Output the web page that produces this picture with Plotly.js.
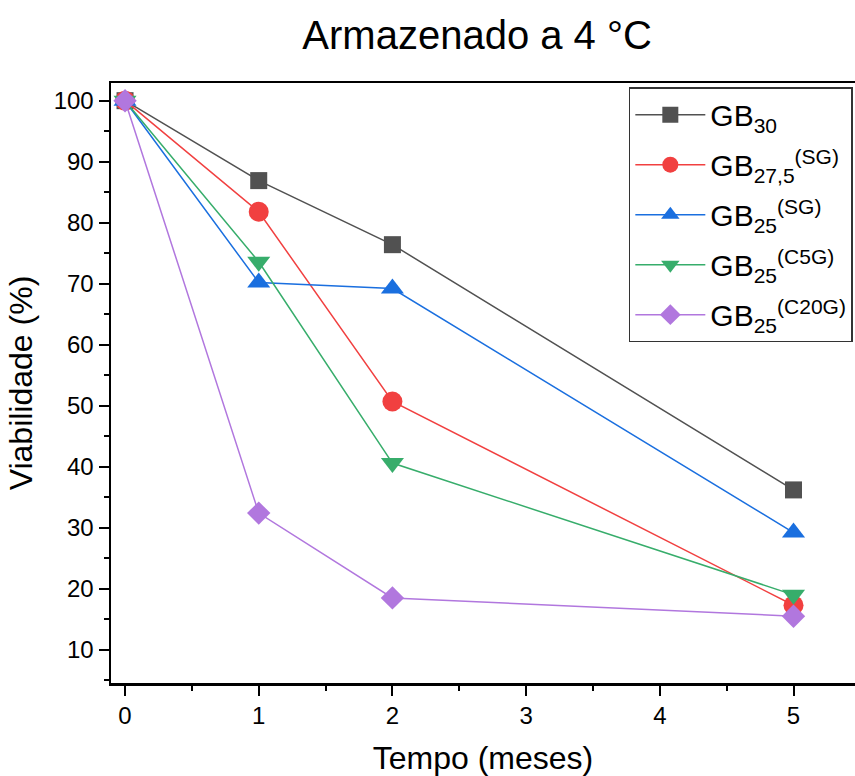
<!DOCTYPE html>
<html>
<head>
<meta charset="utf-8">
<script src="https://cdn.plot.ly/plotly-3.0.1.min.js"></script>
<style>
  html, body { margin: 0; padding: 0; background: #fff; }
  #chart { width: 855px; height: 776px; }
</style>
</head>
<body>
<div id="chart"></div>
<script>
// Storage time in months
const tempo = [0, 1, 2, 5];

// Viability (%) per formulation
const gb30     = [100, 86.9, 76.4, 36.2];
const gb275sg  = [100, 81.8, 50.7, 17.3];
const gb25sg   = [100, 70.2, 69.2, 29.2];
const gb25c5g  = [100, 73.6, 40.6, 19.0];
const gb25c20g = [100, 32.4, 18.5, 15.5];

const seriesNames = [
  'GB<sub>30</sub>',
  'GB<sub>27,5</sub><sup>(SG)</sup>',
  'GB<sub>25</sub><sup>(SG)</sup>',
  'GB<sub>25</sub><sup>(C5G)</sup>',
  'GB<sub>25</sub><sup>(C20G)</sup>'
];

const xTicks = [0, 1, 2, 3, 4, 5];
const yTicks = [10, 20, 30, 40, 50, 60, 70, 80, 90, 100];

const colors  = ['#515151', '#F14040', '#1A6FDF', '#37AD6B', '#B177DE'];
const symbols = ['square', 'circle', 'triangle-up', 'triangle-down', 'diamond'];
const sizes   = [17, 20, 20, 20, 18];
const values  = [gb30, gb275sg, gb25sg, gb25c5g, gb25c20g];

const traces = values.map((v, i) => ({
  x: tempo,
  y: v,
  name: seriesNames[i],
  legendgroup: 'g' + i,
  type: 'scatter',
  mode: 'lines+markers',
  line: { color: colors[i], width: 1.5 },
  marker: { symbol: symbols[i], size: sizes[i], color: colors[i], line: { width: 0 } }
}));

const FONT = 'Liberation Sans, Arial, Helvetica, sans-serif';

const layout = {
  width: 855,
  height: 776,
  margin: { l: 111, r: 0, t: 83, b: 93, autoexpand: false },
  paper_bgcolor: '#ffffff',
  plot_bgcolor: '#ffffff',
  font: { family: FONT, color: '#000000' },
  title: {
    text: 'Armazenado a 4 °C',
    font: { size: 40, family: FONT, color: '#000' },
    x: 0.558, xanchor: 'center',
    y: 0.955, yanchor: 'middle'
  },
  xaxis: {
    range: [-0.105, 5.46],
    tickvals: xTicks,
    ticktext: xTicks.map(String),
    ticks: 'outside', ticklen: 10, tickwidth: 2, tickcolor: '#000',
    minor: { ticks: 'outside', ticklen: 5, tickwidth: 2, tickcolor: '#000', dtick: 0.5, tick0: 0 },
    showline: true, linecolor: '#000', linewidth: 2.5, mirror: true,
    showgrid: false, zeroline: false,
    tickfont: { size: 24, family: FONT, color: '#000' },
    title: { text: 'Tempo (meses)', font: { size: 32, family: FONT, color: '#000' }, standoff: 20 }
  },
  yaxis: {
    range: [4.55, 102.9],
    tickvals: yTicks,
    ticktext: yTicks.map(String),
    ticks: 'outside', ticklen: 10, tickwidth: 2, tickcolor: '#000',
    minor: { ticks: 'outside', ticklen: 5, tickwidth: 2, tickcolor: '#000', dtick: 5, tick0: 0 },
    showline: true, linecolor: '#000', linewidth: 2.5,
    showgrid: false, zeroline: false,
    tickfont: { size: 24, family: FONT, color: '#000' },
    title: { text: 'Viabilidade (%)', font: { size: 32, family: FONT, color: '#000' }, standoff: 12 }
  },
  legend: {
    x: 0.696, y: 0.993, xanchor: 'left', yanchor: 'top',
    bgcolor: '#ffffff', bordercolor: '#333333', borderwidth: 1.5,
    font: { size: 30, family: FONT, color: '#000' },
    tracegroupgap: 8,
    itemwidth: 70
  },
  showlegend: true
};

Plotly.newPlot('chart', traces, layout, { displayModeBar: false, staticPlot: true });
</script>
</body>
</html>
